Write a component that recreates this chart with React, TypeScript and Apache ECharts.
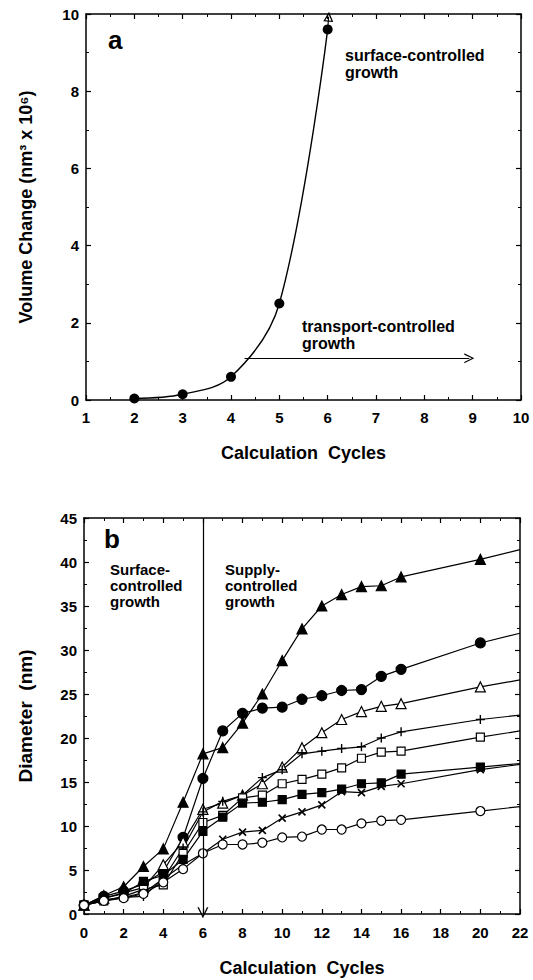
import React, { useEffect, useRef } from "react";
import * as echarts from "echarts";

const FONT = "'Liberation Sans', Arial, Helvetica, sans-serif";

// ---- Panel a ----
const aCycles = [2, 3, 4, 5, 6];
const aVolume = [0.04, 0.15, 0.6, 2.5, 9.6];
const aSurfaceArrow = [[6, 9.6], [6.02, 9.93]];
const aTransportArrow = [[4.28, 1.08], [8.93, 1.08]];

// ---- Panel b ----
const bCycles = [0, 1, 2, 3, 4, 5, 6, 7, 8, 9, 10, 11, 12, 13, 14, 15, 16, 20];
const bEndCycle = 22;
const bFilledTriangle = [1.0, 2.1, 3.1, 5.4, 7.4, 12.7, 18.2, 18.9, 21.7, 25.0, 28.8, 32.4, 35.0, 36.3, 37.2, 37.3, 38.3, 40.3];
const bFilledTriangleEnd = 41.4;
const bFilledCircle = [1.0, 2.0, 2.6, 3.4, 4.8, 8.7, 15.4, 20.8, 22.8, 23.4, 23.5, 24.4, 24.8, 25.4, 25.5, 27.0, 27.8, 30.8];
const bFilledCircleEnd = 31.9;
const bOpenTriangle = [1.0, 1.8, 2.4, 3.0, 5.6, 8.2, 11.9, 12.6, 13.5, 14.8, 16.7, 18.9, 20.6, 22.1, 23.0, 23.6, 23.9, 25.8];
const bOpenTriangleEnd = 26.6;
const bPlus = [1.0, 1.6, 1.9, 2.0, 4.0, 7.5, 11.6, 12.8, 13.5, 15.5, 16.4, 18.2, 18.5, 18.8, 19.0, 20.0, 20.7, 22.1];
const bPlusEnd = 22.6;
const bOpenSquare = [1.0, 1.5, 2.0, 2.8, 3.3, 6.9, 10.4, 11.2, 13.2, 13.5, 14.8, 15.3, 15.9, 16.6, 17.7, 18.4, 18.5, 20.1];
const bOpenSquareEnd = 20.8;
const bFilledSquare = [1.0, 1.8, 2.3, 3.7, 4.4, 6.2, 9.4, 11.0, 12.6, 12.7, 13.0, 13.6, 13.8, 14.2, 14.8, 14.9, 15.9, 16.7];
const bFilledSquareEnd = 17.1;
const bCross = [1.0, 1.5, 1.9, 2.4, 4.0, 5.6, 6.9, 8.5, 9.3, 9.5, 10.9, 11.6, 12.4, 13.9, 13.8, 14.5, 14.8, 16.4];
const bCrossEnd = 17.0;
const bOpenCircle = [1.0, 1.5, 1.8, 2.3, 3.6, 5.1, 6.9, 7.9, 7.9, 8.1, 8.7, 8.8, 9.6, 9.6, 10.3, 10.6, 10.7, 11.7];
const bOpenCircleEnd = 12.2;
const bDivider = [[6, 45], [6, 0.15]];

const CHEVRON = "path://M0,12 L6,0 L12,12 L10.4,12 L6,3 L1.6,12 Z";
const HOLLOW_TRI = "path://M6,0 L12,12 L0,12 Z M6,3.8 L2.3,10.7 L9.7,10.7 Z";
const CROSS = "path://M0,0 L10,10 M10,0 L0,10";
const PLUS = "path://M5,0 L5,10 M0,5 L10,5";

function buildData(values: number[], end: number) {
  const d: any[] = values.map((v, i) => [bCycles[i], v]);
  d.push({ value: [bEndCycle, end], symbol: "none" });
  return d;
}

const labelStyle = { color: "#000", fontFamily: FONT, fontWeight: "bold" as const, fontSize: 15 };
const nameStyle = { color: "#000", fontFamily: FONT, fontWeight: "bold" as const, fontSize: 18 };
const axisLine = { show: true, onZero: false, lineStyle: { color: "#000", width: 1.5 } };
const tick = { show: true, inside: true, length: 5, lineStyle: { color: "#000", width: 1.2 } };
const minor = { show: true, splitNumber: 2, length: 3, lineStyle: { color: "#000", width: 1 } };

function xAxes(grid: number, min: number, max: number, interval: number, margin: number, gap: number) {
  return [
    {
      type: "value", gridIndex: grid, position: "bottom", min, max, interval,
      axisLine, axisTick: tick, minorTick: minor, splitLine: { show: false },
      axisLabel: { ...labelStyle, margin },
      name: "Calculation  Cycles", nameLocation: "middle", nameGap: gap, nameTextStyle: nameStyle,
    },
    {
      type: "value", gridIndex: grid, position: "top", min, max, interval,
      axisLine, axisTick: tick, minorTick: minor, splitLine: { show: false },
      axisLabel: { show: false },
    },
  ];
}

function yAxes(grid: number, min: number, max: number, interval: number, name: string, gap: number, margin: number, nameSize: number) {
  return [
    {
      type: "value", gridIndex: grid, position: "left", min, max, interval,
      axisLine, axisTick: tick, minorTick: minor, splitLine: { show: false },
      axisLabel: { ...labelStyle, margin },
      name, nameLocation: "middle", nameGap: gap, nameTextStyle: { ...nameStyle, fontSize: nameSize },
    },
    {
      type: "value", gridIndex: grid, position: "right", min, max, interval,
      axisLine, axisTick: tick, minorTick: minor, splitLine: { show: false },
      axisLabel: { show: false },
    },
  ];
}

function arrowLine(from: number[], to: number[], endSymbol: string, size: number) {
  return {
    silent: true,
    animation: false,
    label: { show: false },
    lineStyle: { color: "#000", width: 1.2, type: "solid" },
    emphasis: { disabled: true },
    data: [[
      { coord: from, symbol: "none" },
      { coord: to, symbol: endSymbol, symbolSize: size },
    ]],
  };
}

function bSeries(name: string, values: number[], end: number, symbol: string, size: number, fill: string, extra: any = {}) {
  return {
    type: "line", name, xAxisIndex: 2, yAxisIndex: 2,
    data: buildData(values, end),
    symbol, symbolSize: size,
    lineStyle: { color: "#000", width: 1.2 },
    itemStyle: { color: fill, borderColor: "#000", borderWidth: 1.2, ...extra },
    silent: true,
    z: 3,
  };
}

export default function App() {
  const ref = useRef<HTMLDivElement>(null);
  useEffect(() => {
    if (!ref.current) return;
    const chart = echarts.init(ref.current, null, { renderer: "svg" });
    const option: any = {
      animation: false,
      backgroundColor: "#fff",
      grid: [
        { left: 86, top: 14, width: 435, height: 386 },
        { left: 84, top: 518, width: 436, height: 396 },
      ],
      xAxis: [...xAxes(0, 1, 10, 1, 10, 44), ...xAxes(1, 0, 22, 2, 11, 45)],
      yAxis: [
        ...yAxes(0, 0, 10, 2, "Volume Change (nm³ x 10⁶)", 51, 7, 18),
        ...yAxes(1, 0, 45, 5, "Diameter  (nm)", 49, 7, 19),
      ],
      series: [
        {
          type: "line", name: "volume", xAxisIndex: 0, yAxisIndex: 0,
          data: aCycles.map((c, i) => [c, aVolume[i]]),
          smooth: 0.35,
          symbol: "circle", symbolSize: 10,
          lineStyle: { color: "#000", width: 1.4 },
          itemStyle: { color: "#000" },
          silent: true,
          markLine: {
            ...arrowLine(aTransportArrow[0], aTransportArrow[1], CHEVRON, 10),
            data: [
              [{ coord: aTransportArrow[0], symbol: "none" }, { coord: aTransportArrow[1], symbol: CHEVRON, symbolSize: 10 }],
              [{ coord: aSurfaceArrow[0], symbol: "none" }, { coord: aSurfaceArrow[1], symbol: HOLLOW_TRI, symbolSize: 10 }],
            ],
          },
        },
        {
          ...bSeries("filledTriangle", bFilledTriangle, bFilledTriangleEnd, "triangle", 10, "#000"),
          markLine: arrowLine(bDivider[0], bDivider[1], CHEVRON, 11),
        },
        bSeries("filledCircle", bFilledCircle, bFilledCircleEnd, "circle", 10, "#000"),
        bSeries("openTriangle", bOpenTriangle, bOpenTriangleEnd, "triangle", 10, "#fff"),
        bSeries("plus", bPlus, bPlusEnd, PLUS, 9, "none", { borderWidth: 1.4 }),
        bSeries("openSquare", bOpenSquare, bOpenSquareEnd, "rect", 8, "#fff"),
        bSeries("filledSquare", bFilledSquare, bFilledSquareEnd, "rect", 8, "#000"),
        bSeries("cross", bCross, bCrossEnd, CROSS, 7, "none", { borderWidth: 1.6 }),
        bSeries("openCircle", bOpenCircle, bOpenCircleEnd, "circle", 9, "#fff"),
      ],
      graphic: [
        { type: "text", left: 108, top: 27, silent: true, style: { text: "a", font: `bold 26px ${FONT}`, fill: "#000" } },
        { type: "text", left: 345, top: 47, silent: true, style: { text: "surface-controlled\ngrowth", font: `bold 16px ${FONT}`, lineHeight: 17, fill: "#000" } },
        { type: "text", left: 302, top: 318, silent: true, style: { text: "transport-controlled\ngrowth", font: `bold 16px ${FONT}`, lineHeight: 17, fill: "#000" } },
        { type: "text", left: 104, top: 526, silent: true, style: { text: "b", font: `bold 26px ${FONT}`, fill: "#000" } },
        { type: "text", left: 110, top: 561, silent: true, style: { text: "Surface-\ncontrolled\ngrowth", font: `bold 15px ${FONT}`, lineHeight: 16, fill: "#000" } },
        { type: "text", left: 225, top: 561, silent: true, style: { text: "Supply-\ncontrolled\ngrowth", font: `bold 15px ${FONT}`, lineHeight: 16, fill: "#000" } },
      ],
    };
    chart.setOption(option);
    return () => chart.dispose();
  }, []);
  return (
    <div
      ref={ref}
      style={{ position: "fixed", left: 0, top: 0, width: 533, height: 980, background: "#fff" }}
    />
  );
}
